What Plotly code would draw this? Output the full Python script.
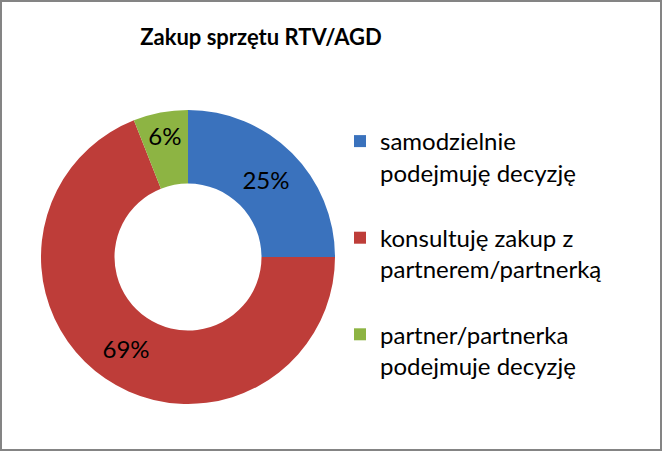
import plotly.graph_objects as go

categories = [
    "samodzielnie<br>podejmuję decyzję<br> ",
    "konsultuję zakup z<br>partnerem/partnerką<br> ",
    "partner/partnerka<br>podejmuje decyzję<br> ",
]
values = [25, 69, 6]
colors = ["#3A72BD", "#BE3D39", "#8DB443"]

W, H = 662, 451
FONT = "Lato"

fig = go.Figure(go.Pie(
    labels=categories,
    values=values,
    hole=0.5,
    sort=False,
    direction="clockwise",
    rotation=0,
    marker=dict(colors=colors, line=dict(width=0)),
    texttemplate="%{value}%",
    textposition="inside",
    insidetextorientation="horizontal",
    textfont=dict(family=FONT, size=24, color="#000000"),
    domain=dict(x=[41 / W, 335 / W], y=[(H - 404) / H, (H - 110) / H]),
    hoverinfo="label+percent",
))

fig.update_layout(
    width=W, height=H,
    margin=dict(l=0, r=0, t=0, b=0),
    paper_bgcolor="#FFFFFF",
    plot_bgcolor="#FFFFFF",
    title=dict(
        text="<b>Zakup sprzętu RTV/AGD</b>",
        x=261 / W, xanchor="center",
        y=1 - 37 / H, yanchor="middle",
        font=dict(family=FONT, size=22, color="#000000"),
    ),
    uniformtext=dict(minsize=24, mode="show"),
    legend=dict(
        x=340 / W, xanchor="left",
        y=1 - 119 / H, yanchor="top",
        font=dict(family=FONT, size=24, color="#000000"),
        valign="top",
        bgcolor="rgba(0,0,0,0)",
        itemwidth=30,
    ),
    showlegend=True,
    shapes=[dict(
        type="rect", xref="paper", yref="paper",
        x0=0, x1=1, y0=0, y1=1,
        line=dict(color="#848484", width=4),
        fillcolor="rgba(0,0,0,0)",
    )],
)

fig.write_html(
    "out.html",
    config={"displayModeBar": False},
    post_script="document.body.style.margin='0';document.body.style.overflow='hidden';",
)
